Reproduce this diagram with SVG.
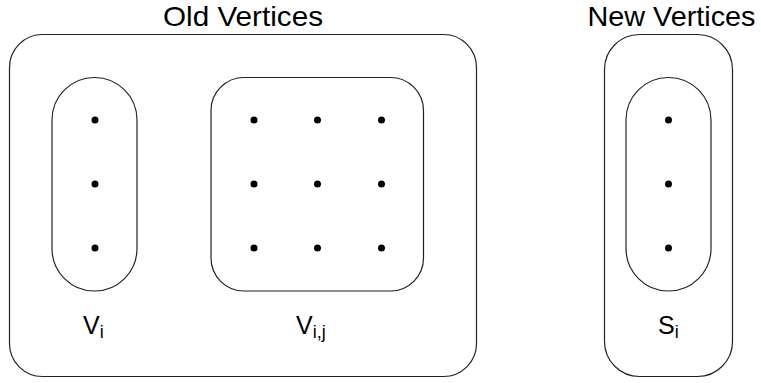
<svg xmlns="http://www.w3.org/2000/svg" width="761" height="383" viewBox="0 0 761 383">
<style>
.box{fill:none;stroke:#222;stroke-width:1.2}
.dot{fill:#000}
.title{font-family:"Liberation Sans",Arial,sans-serif;font-size:28px;fill:#000}
.lbl{font-family:"Liberation Sans",Arial,sans-serif;font-size:25px;fill:#000}
.sub{font-size:18px}
</style>
<rect width="761" height="383" fill="#fff"/>
<g id="old-vertices">
<rect class="box" x="9.5" y="34.5" width="467" height="342" rx="33" ry="33"/>
<text class="title" x="243" y="26" text-anchor="middle" textLength="160" lengthAdjust="spacingAndGlyphs">Old Vertices</text>
</g>
<g id="new-vertices">
<rect class="box" x="604.5" y="34.5" width="128" height="342" rx="35" ry="35"/>
<text class="title" x="671.5" y="26" text-anchor="middle" textLength="168" lengthAdjust="spacingAndGlyphs">New Vertices</text>
</g>
<g id="Vi">
<rect class="box" x="52" y="77.5" width="85" height="213.5" rx="42.5" ry="42.5"/>
<circle class="dot" cx="95" cy="120" r="3.5"/>
<circle class="dot" cx="95" cy="184" r="3.5"/>
<circle class="dot" cx="95" cy="248" r="3.5"/>
<text class="lbl" x="83" y="333.5">V<tspan class="sub" dy="4.5">i</tspan></text>
</g>
<g id="Vij">
<rect class="box" x="211" y="77.5" width="212.5" height="213.5" rx="33" ry="33"/>
<circle class="dot" cx="254" cy="120" r="3.5"/>
<circle class="dot" cx="317.5" cy="120" r="3.5"/>
<circle class="dot" cx="381.5" cy="120" r="3.5"/>
<circle class="dot" cx="254" cy="184" r="3.5"/>
<circle class="dot" cx="317.5" cy="184" r="3.5"/>
<circle class="dot" cx="381.5" cy="184" r="3.5"/>
<circle class="dot" cx="254" cy="248" r="3.5"/>
<circle class="dot" cx="317.5" cy="248" r="3.5"/>
<circle class="dot" cx="381.5" cy="248" r="3.5"/>
<text class="lbl" x="296" y="333.5">V<tspan class="sub" dy="4.5">i,j</tspan></text>
</g>
<g id="Si">
<rect class="box" x="626" y="77.5" width="85" height="213.5" rx="42.5" ry="42.5"/>
<circle class="dot" cx="668.5" cy="120" r="3.5"/>
<circle class="dot" cx="668.5" cy="184" r="3.5"/>
<circle class="dot" cx="668.5" cy="248" r="3.5"/>
<text class="lbl" x="658" y="333.5">S<tspan class="sub" dy="4.5">i</tspan></text>
</g>
<g id="connectors"/>
</svg>
